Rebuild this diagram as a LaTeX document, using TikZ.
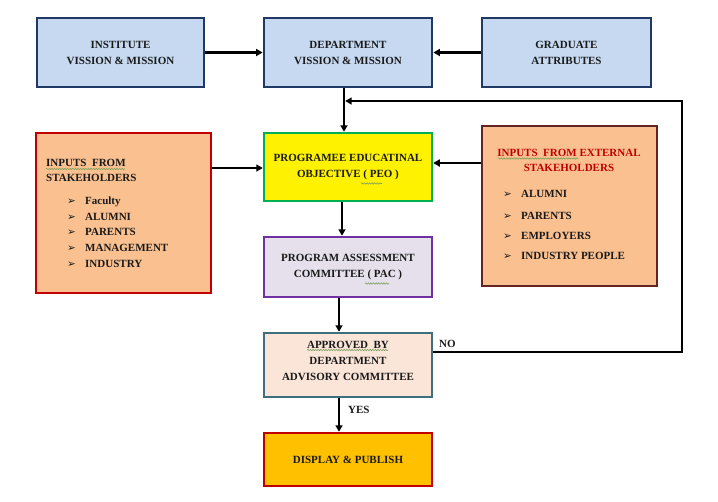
\documentclass[tikz,border=0pt]{standalone}
\usepackage{fontspec}
\setmainfont{Liberation Serif}
\newfontfamily\symfont{DejaVu Sans}
\usetikzlibrary{arrows.meta,decorations.pathmorphing}
\definecolor{bluefill}{HTML}{C6D9F1}
\definecolor{navyline}{HTML}{1F3864}
\definecolor{peach}{HTML}{FAC090}
\definecolor{darkred}{HTML}{C00000}
\definecolor{extbrown}{HTML}{632423}
\definecolor{peogreen}{HTML}{00B050}
\definecolor{pacfill}{HTML}{E5E0EC}
\definecolor{pacpurple}{HTML}{7030A0}
\definecolor{apprfill}{HTML}{FBE5D9}
\definecolor{apprline}{HTML}{3F6F7C}
\definecolor{dispfill}{HTML}{FFC000}
\definecolor{txt}{HTML}{1A1A1A}
\definecolor{squig}{HTML}{7BA05B}
\newcommand\bulmark{{\symfont\fontsize{10.5}{10}\selectfont\char"27A2}}
\begin{document}
\begin{tikzpicture}[x=1pt,y=-1pt,
  every node/.style={inner sep=0pt, text=txt, font=\fontsize{11}{16}\selectfont\bfseries},
  box/.style={align=center, line width=2.5pt},
  bluebox/.style={box, draw=navyline, fill=bluefill, line width=2.8pt},
  item/.style={anchor=base west},
  arr/.style={line width=2.2pt, -{Triangle[length=6.5pt,width=7pt]}},
  wavy/.style={draw=squig, line width=0.6pt, decorate, decoration={snake, amplitude=0.7pt, segment length=2.6pt}}]
\useasboundingbox (0,0) rectangle (718,501);
\fill[white] (0,0) rectangle (718,501);

% top row
\node[bluebox, minimum width=167pt, minimum height=69pt] (inst) at (120.5,52.5) {INSTITUTE\\VISSION \& MISSION};
\node[bluebox, minimum width=168pt, minimum height=69pt] (dept) at (348,52.5) {DEPARTMENT\\VISSION \& MISSION};
\node[bluebox, minimum width=169pt, minimum height=69pt] (grad) at (566.5,52.5) {GRADUATE\\ATTRIBUTES};

% middle
\node[box, draw=darkred, fill=peach, minimum width=175pt, minimum height=160pt] (stake) at (123.5,213) {};
\node[box, draw=peogreen, fill=yellow, minimum width=168pt, minimum height=68pt] (peo) at (348,167) {PROGRAMEE EDUCATINAL\\OBJECTIVE ( PEO )};
\node[box, draw=extbrown, fill=peach, minimum width=175pt, minimum height=160pt] (ext) at (569.5,206) {};
\node[box, draw=pacpurple, fill=pacfill, minimum width=168pt, minimum height=60pt] (pac) at (348,267) {PROGRAM ASSESSMENT\\COMMITTEE ( PAC )};
\node[box, draw=apprline, fill=apprfill, minimum width=168pt, minimum height=64pt] (appr) at (348,365) {};
\node[align=center] (apprtext) at (348,361) {APPROVED\ \ BY\\DEPARTMENT\\ADVISORY COMMITTEE};
\node[box, draw=darkred, fill=dispfill, minimum width=168pt, minimum height=53pt] (disp) at (348,459.5) {DISPLAY \& PUBLISH};

% stakeholders text
\node[item] (s1) at (46,166) {INPUTS\ \ FROM};
\node[item] (s2) at (46,181) {STAKEHOLDERS};
\node[item] (sb1) at (67,204) {\bulmark}; \node[item] (st1) at (85,204) {Faculty};
\node[item] (sb2) at (67,220) {\bulmark}; \node[item] (st2) at (85,220) {ALUMNI};
\node[item] (sb3) at (67,235) {\bulmark}; \node[item] (st3) at (85,235) {PARENTS};
\node[item] (sb4) at (67,251) {\bulmark}; \node[item] (st4) at (85,251) {MANAGEMENT};
\node[item] (sb5) at (67,267) {\bulmark}; \node[item] (st5) at (85,267) {INDUSTRY};

% external text
\node[anchor=base, text=darkred] (e1) at (569,156) {INPUTS\ \ FROM EXTERNAL};
\node[anchor=base, text=darkred] (e2) at (569,171) {STAKEHOLDERS};
\node[item] (eb1) at (503,197) {\bulmark}; \node[item] (et1) at (521,197) {ALUMNI};
\node[item] (eb2) at (503,219) {\bulmark}; \node[item] (et2) at (521,219) {PARENTS};
\node[item] (eb3) at (503,239) {\bulmark}; \node[item] (et3) at (521,239) {EMPLOYERS};
\node[item] (eb4) at (503,259) {\bulmark}; \node[item] (et4) at (521,259) {INDUSTRY PEOPLE};

% spell-check squiggles
\draw[wavy] (46,169) -- (125,169);
\draw[wavy] (498,158.5) -- (578,158.5);
\draw[wavy] (361,183.5) -- (382,183.5);
\draw[wavy] (365,283.5) -- (389,283.5);
\draw[wavy] (307,350) -- (388,350);

% labels
\node[anchor=base west] (no) at (439,347) {NO};
\node[anchor=base west] (yes) at (348,413) {YES};

% helper coordinates
\coordinate (xa) at (344,0);
\coordinate (xb) at (342,0);
\coordinate (xc) at (339,0);
\coordinate (ys) at (0,168);
\coordinate (ye) at (0,163);
\coordinate (yn) at (0,352);
\coordinate (loopr) at (682,101);

% connectors
\draw[arr] (inst.east) -- (dept.west);
\draw[arr] (grad.west) -- (dept.east);
\draw[arr] (dept.south -| xa) -- (peo.north -| xa);
\draw[arr] (stake.east |- ys) -- (peo.west |- ys);
\draw[arr] (ext.west |- ye) -- (peo.east |- ye);
\draw[arr] (peo.south -| xb) -- (pac.north -| xb);
\draw[arr] (pac.south -| xc) -- (appr.north -| xc);
\draw[arr] (appr.south -| xc) -- (disp.north -| xc);
\draw[arr] (appr.east |- yn) -- (loopr |- yn) -- (loopr) -- ([xshift=1.2pt]xa |- loopr);
\end{tikzpicture}
\end{document}
